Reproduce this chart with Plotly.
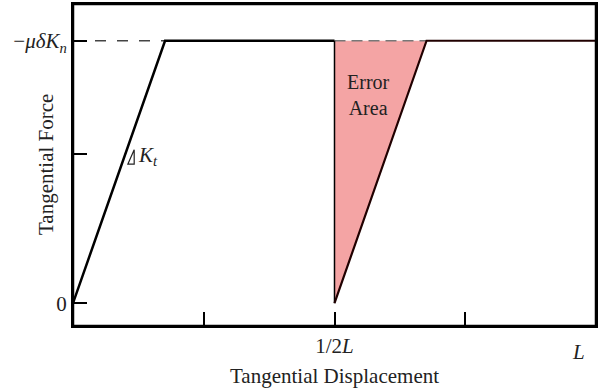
import plotly.graph_objects as go

# --- data (normalised: displacement in units of L, force in units of -mu*delta*Kn)
load_x = [0.0, 0.176, 0.5]
load_y = [0.0, 1.0, 1.0]
drop_x = [0.5, 0.5]
drop_y = [1.0, 0.0]
reload_x = [0.5, 0.676, 1.0]
reload_y = [0.0, 1.0, 1.0]
error_x = [0.5, 0.5, 0.676, 0.5]
error_y = [1.0, 0.0, 1.0, 1.0]
limit1_x = [0.0, 0.176]
limit2_x = [0.5, 0.676]
limit_y = [1.0, 1.0]

x_tickvals = [0.25, 0.5, 0.75, 1.0]
x_ticktext = ["", "1/2<i>L</i>", "", ""]
y_tickvals = [0.0, 0.57, 1.0]
y_ticktext = ["0", "", "−<i>μδK</i><sub><i>n</i></sub>"]

FONT = "Liberation Serif"
FS = 21
TXT = "#222222"

fig = go.Figure()
fig.add_trace(go.Scatter(x=error_x, y=error_y, fill="toself", fillcolor="#f4a4a4",
                         mode="lines", line=dict(width=0), hoverinfo="skip"))
fig.add_trace(go.Scatter(x=limit1_x, y=limit_y, mode="lines",
                         line=dict(color="#444444", width=1.5, dash="11px,11px")))
fig.add_trace(go.Scatter(x=limit2_x, y=limit_y, mode="lines",
                         line=dict(color="#777777", width=1.5, dash="11px,6px")))
fig.add_trace(go.Scatter(x=load_x, y=load_y, mode="lines",
                         line=dict(color="black", width=2.5)))
fig.add_trace(go.Scatter(x=drop_x, y=drop_y, mode="lines",
                         line=dict(color="black", width=1.5)))
fig.add_trace(go.Scatter(x=reload_x, y=reload_y, mode="lines",
                         line=dict(color="#200000", width=2.2)))

# slope triangle marker
fig.add_shape(type="path", xref="x", yref="y",
              path="M 0.105 0.53 L 0.117 0.585 L 0.117 0.53 Z",
              line=dict(color="#222222", width=1.2))
# frame
fig.add_shape(type="rect", xref="paper", yref="paper", x0=0, x1=1, y0=0, y1=1,
              line=dict(color="black", width=2.5), layer="above")

fig.update_layout(
    width=600, height=391,
    margin=dict(l=73, r=3, t=2, b=65),
    paper_bgcolor="white", plot_bgcolor="white",
    showlegend=False,
    font=dict(family=FONT, size=FS, color=TXT),
    xaxis=dict(range=[0, 1.0], showgrid=False, zeroline=False,
               showline=True, linecolor="black", linewidth=2, mirror=True,
               ticks="inside", ticklen=14, tickwidth=2, tickcolor="black",
               tickvals=x_tickvals, ticktext=x_ticktext,
               tickfont=dict(family=FONT, size=FS, color=TXT)),
    yaxis=dict(range=[-0.087, 1.14], showgrid=False, zeroline=False,
               showline=True, linecolor="black", linewidth=2, mirror=True,
               ticks="inside", ticklen=14, tickwidth=2, tickcolor="black",
               tickvals=y_tickvals, ticktext=y_ticktext,
               tickfont=dict(family=FONT, size=FS, color=TXT)),
    annotations=[
        dict(text="<i>L</i>", x=1.0, y=0, xref="x", yref="paper", xanchor="right",
             yanchor="top", xshift=-9, yshift=-12, showarrow=False,
             font=dict(family=FONT, size=FS, color=TXT)),
        dict(text="Tangential Displacement", x=0.5, y=0, xref="paper", yref="paper",
             xanchor="center", yanchor="top", yshift=-36, showarrow=False,
             font=dict(family=FONT, size=FS, color=TXT)),
        dict(text="Tangential Force", x=0, y=0.5, xref="paper", yref="paper",
             xanchor="center", yanchor="middle", xshift=-27, textangle=-90,
             showarrow=False, font=dict(family=FONT, size=FS, color=TXT)),
        dict(text="<i>K</i><sub><i>t</i></sub>", x=0.12, y=0.56, xref="x", yref="y",
             xanchor="left", yanchor="middle", showarrow=False,
             font=dict(family=FONT, size=FS, color=TXT)),
        dict(text="Error<br>Area", x=0.565, y=0.795, xref="x", yref="y",
             xanchor="center", yanchor="middle", showarrow=False, align="center",
             font=dict(family=FONT, size=FS - 1, color=TXT)),
    ],
)

fig.write_html("out.html", config={"displayModeBar": False},
               post_script="document.body.style.margin='0';")
